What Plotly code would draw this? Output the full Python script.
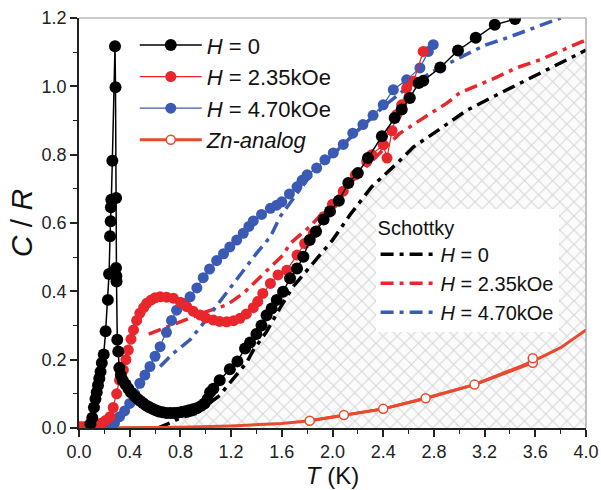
import plotly.graph_objects as go

# ---------------- data ----------------
# H = 0 (black, measured)
T_h0 = [0.09, 0.105, 0.118, 0.13, 0.14, 0.15, 0.16, 0.17, 0.18, 0.195, 0.21, 0.228, 0.237, 0.245, 0.25,
        0.252, 0.255, 0.263, 0.284, 0.288, 0.293, 0.292, 0.295, 0.296, 0.302, 0.31, 0.318, 0.33, 0.345,
        0.368, 0.39, 0.41, 0.44, 0.46, 0.48, 0.505, 0.53, 0.555, 0.58, 0.605, 0.63, 0.66, 0.69, 0.72, 0.75,
        0.78, 0.81, 0.84, 0.87, 0.9, 0.93, 0.96, 0.99, 1.015, 1.034, 1.06, 1.11, 1.19, 1.25, 1.31, 1.35,
        1.40, 1.44, 1.48, 1.52, 1.56, 1.61, 1.665, 1.72, 1.77, 1.82, 1.87, 1.93, 1.98, 2.05, 2.125, 2.20,
        2.28, 2.39, 2.49, 2.546, 2.61, 2.68, 2.716, 2.85, 2.99, 3.13, 3.28, 3.44]
C_h0 = [0.012, 0.03, 0.06, 0.085, 0.105, 0.125, 0.145, 0.165, 0.19, 0.215, 0.283, 0.375, 0.451, 0.561, 0.605,
        0.646, 0.668, 0.782, 1.117, 0.997, 0.673, 0.468, 0.445, 0.429, 0.258, 0.224, 0.176, 0.155, 0.14,
        0.127, 0.115, 0.104, 0.093, 0.086, 0.08, 0.073, 0.066, 0.061, 0.056, 0.052, 0.048, 0.046, 0.044, 0.044, 0.044,
        0.045, 0.047, 0.049, 0.052, 0.055, 0.058, 0.064, 0.072, 0.085, 0.105, 0.115, 0.14, 0.172, 0.195, 0.233, 0.25,
        0.275, 0.30, 0.33, 0.35, 0.375, 0.399, 0.438, 0.467, 0.501, 0.55, 0.575, 0.61, 0.634, 0.665, 0.717, 0.746,
        0.79, 0.854, 0.907, 0.932, 0.966, 1.01, 1.016, 1.055, 1.105, 1.142, 1.18, 1.197]

# H = 2.35 kOe (red, measured)
T_h235 = [0.01, 0.03, 0.05, 0.075, 0.1, 0.12, 0.14, 0.16, 0.18, 0.21, 0.245, 0.27, 0.297, 0.32, 0.35, 0.37,
          0.389, 0.41, 0.43, 0.455, 0.48, 0.51, 0.534, 0.57, 0.6, 0.64, 0.69, 0.744, 0.8, 0.85, 0.9, 0.955,
          1.0, 1.06, 1.11, 1.165, 1.22, 1.27, 1.32, 1.375, 1.41, 1.45, 1.51, 1.57, 1.64, 1.72, 1.78, 1.85,
          1.93, 2.0, 2.085, 2.18, 2.27, 2.31, 2.40, 2.43, 2.47, 2.506, 2.546, 2.585, 2.64, 2.716]
C_h235 = [0.004, 0.004, 0.004, 0.005, 0.006, 0.007, 0.009, 0.012, 0.015, 0.022, 0.033, 0.06, 0.10, 0.14, 0.17, 0.20,
          0.228, 0.26, 0.287, 0.315, 0.336, 0.352, 0.365, 0.375, 0.381, 0.384, 0.383, 0.38, 0.368, 0.355, 0.342, 0.331,
          0.322, 0.316, 0.312, 0.311, 0.314, 0.321, 0.334, 0.352, 0.37, 0.394, 0.423, 0.448, 0.462, 0.506, 0.54, 0.57,
          0.618, 0.655, 0.693, 0.741, 0.78, 0.80, 0.829, 0.79, 0.87, 0.917, 0.946, 0.995, 1.015, 1.102]

# H = 4.70 kOe (blue, measured)
T_h470 = [0.245, 0.28, 0.32, 0.36, 0.40, 0.44, 0.48, 0.52, 0.56, 0.6, 0.64, 0.69, 0.73, 0.77, 0.82, 0.876,
          0.93, 0.98, 1.03, 1.086, 1.14, 1.19, 1.244, 1.296, 1.34, 1.375, 1.44, 1.51, 1.56, 1.60, 1.66, 1.72,
          1.76, 1.80, 1.875, 1.94, 2.006, 2.085, 2.16, 2.24, 2.32, 2.40, 2.48, 2.585, 2.69, 2.756, 2.795]
C_h470 = [0.004, 0.015, 0.033, 0.05, 0.072, 0.10, 0.131, 0.155, 0.18, 0.21, 0.238, 0.28, 0.315, 0.345, 0.365, 0.384,
          0.41, 0.44, 0.465, 0.49, 0.51, 0.53, 0.55, 0.57, 0.59, 0.606, 0.625, 0.643, 0.652, 0.662, 0.685, 0.706,
          0.725, 0.741, 0.761, 0.785, 0.805, 0.83, 0.863, 0.888, 0.915, 0.946, 0.99, 1.019, 1.054, 1.102, 1.122]

# Zn-analog (open circles) and its line
T_zn = [1.82, 2.09, 2.40, 2.735, 3.12, 3.58, 3.58]
C_zn = [0.021, 0.038, 0.056, 0.087, 0.127, 0.191, 0.204]
T_zn_line = [0.0, 0.4, 0.8, 1.2, 1.6, 1.82, 2.09, 2.40, 2.735, 3.12, 3.58, 3.8, 4.0]
C_zn_line = [0.0, 0.0, 0.002, 0.006, 0.013, 0.021, 0.038, 0.056, 0.087, 0.127, 0.195, 0.235, 0.287]

# Schottky curves
T_s0 = [0.62, 0.72, 0.8, 0.93, 1.0, 1.11, 1.165, 1.244, 1.32, 1.375, 1.48, 1.6, 1.69, 1.757, 1.9, 2.0,
        2.14, 2.31, 2.51, 2.64, 2.8, 3.06, 3.27, 3.48, 3.74, 4.0]
C_s0 = [0.0, 0.015, 0.03, 0.043, 0.065, 0.095, 0.121, 0.155, 0.19, 0.228, 0.282, 0.36, 0.414, 0.443, 0.505, 0.55,
        0.625, 0.706, 0.775, 0.823, 0.863, 0.93, 0.97, 1.009, 1.057, 1.106]
T_s235 = [0.55, 0.6, 0.77, 0.9, 1.0, 1.165, 1.296, 1.48, 1.61, 1.665, 1.82, 2.0, 2.2, 2.36, 2.53, 2.77,
          2.9, 3.0, 3.28, 3.45, 3.64, 3.82, 4.0]
C_s235 = [0.275, 0.282, 0.306, 0.325, 0.34, 0.36, 0.394, 0.46, 0.506, 0.54, 0.589, 0.66, 0.74, 0.80, 0.862, 0.92,
          0.95, 0.98, 1.024, 1.054, 1.078, 1.107, 1.136]
T_s470 = [0.64, 0.665, 0.744, 0.876, 0.98, 1.14, 1.296, 1.40, 1.51, 1.586, 1.72, 1.80, 2.0, 2.2, 2.4, 2.6,
          2.8, 3.0, 3.2, 3.37, 3.55, 3.69, 3.8]
C_s470 = [0.18, 0.189, 0.219, 0.258, 0.306, 0.384, 0.462, 0.511, 0.56, 0.618, 0.687, 0.726, 0.80, 0.87, 0.94, 1.0,
          1.045, 1.083, 1.12, 1.141, 1.165, 1.185, 1.2]

x_ticks = [0.0, 0.4, 0.8, 1.2, 1.6, 2.0, 2.4, 2.8, 3.2, 3.6, 4.0]
y_ticks = [0.0, 0.2, 0.4, 0.6, 0.8, 1.0, 1.2]

# ---------------- styling ----------------
FONT = "Liberation Sans, Arial, sans-serif"
BLACK = "#000000"
RED = "#e8262b"
BLUE = "#3a5ab4"
ZNRED = "#e84a2e"
DASHDOT = "13px,6px,4px,6px"

fig = go.Figure()

# hatched region under the H = 0 Schottky curve
fig.add_trace(go.Scatter(
    x=T_s0, y=C_s0, mode="lines", fill="tozeroy",
    line=dict(width=0, color="rgba(0,0,0,0)"),
    fillcolor="rgba(0,0,0,0)",
    fillpattern=dict(shape="x", fgcolor="#b0b0b0", bgcolor="#fbfbfb", size=10, solidity=0.2),
    showlegend=False, hoverinfo="skip"))

# Schottky curves (second legend)
fig.add_trace(go.Scatter(x=T_s0, y=C_s0, mode="lines", name="<i>H</i> = 0",
                         line=dict(color=BLACK, width=3.5, dash=DASHDOT), legend="legend2", legendrank=1))
fig.add_trace(go.Scatter(x=T_s235, y=C_s235, mode="lines", name="<i>H</i> = 2.35kOe",
                         line=dict(color=RED, width=3.5, dash=DASHDOT), legend="legend2", legendrank=2))
fig.add_trace(go.Scatter(x=T_s470, y=C_s470, mode="lines", name="<i>H</i> = 4.70kOe",
                         line=dict(color=BLUE, width=3.5, dash=DASHDOT), legend="legend2", legendrank=3))

# Zn-analog
fig.add_trace(go.Scatter(x=T_zn_line, y=C_zn_line, mode="lines", line=dict(color=ZNRED, width=3),
                         showlegend=False, hoverinfo="skip"))
fig.add_trace(go.Scatter(x=T_zn, y=C_zn, mode="lines+markers", name="<i>Zn-analog</i>",
                         line=dict(color=ZNRED, width=3),
                         marker=dict(symbol="circle", size=9, color="white", line=dict(width=1.5, color=ZNRED)),
                         legendrank=4))

# measured data
fig.add_trace(go.Scatter(x=T_h470, y=C_h470, mode="lines+markers", name="<i>H</i> = 4.70kOe",
                         line=dict(color=BLUE, width=1.2),
                         marker=dict(size=11, color=BLUE), legendrank=3))
fig.add_trace(go.Scatter(x=T_h235, y=C_h235, mode="lines+markers", name="<i>H</i> = 2.35kOe",
                         line=dict(color=RED, width=1.2),
                         marker=dict(size=11, color=RED), legendrank=2))
fig.add_trace(go.Scatter(x=T_h0, y=C_h0, mode="lines+markers", name="<i>H</i> = 0",
                         line=dict(color=BLACK, width=1.5),
                         marker=dict(size=12, color=BLACK), legendrank=1))

axis_common = dict(
    showgrid=False, zeroline=False, showline=True, linecolor="#222", linewidth=1.5,
    ticks="outside", ticklen=7, tickwidth=1.5, tickcolor="#222",
    tickfont=dict(family=FONT, size=18, color="#222"),
    minor=dict(ticks="outside", ticklen=4, tickwidth=1.2, tickcolor="#222"),
    automargin=False,
)

fig.update_layout(
    width=601, height=490,
    margin=dict(l=79, r=15, t=18, b=62),
    paper_bgcolor="white", plot_bgcolor="white",
    font=dict(family=FONT, color="#111"),
    xaxis=dict(range=[0, 4.0], tickvals=x_ticks, ticktext=[f"{v:.1f}" for v in x_ticks],
               title=dict(text="<i>T</i> (K)", font=dict(family=FONT, size=24), standoff=4),
               **axis_common),
    yaxis=dict(range=[0, 1.2], tickvals=y_ticks, ticktext=[f"{v:.1f}" for v in y_ticks],
               title=dict(text="<i>C</i> / <i>R</i>", font=dict(family=FONT, size=30), standoff=0),
               **axis_common),
    legend=dict(x=0.11, y=0.985, xanchor="left", yanchor="top", bgcolor="rgba(0,0,0,0)",
                font=dict(family=FONT, size=22, color="#111"), traceorder="normal",
                itemwidth=62),
    legend2=dict(x=0.585, y=0.535, xanchor="left", yanchor="top", bgcolor="white",
                 font=dict(family=FONT, size=20, color="#111"), traceorder="normal",
                 itemwidth=55,
                 title=dict(text="Schottky", font=dict(family=FONT, size=20, color="#111"))),
    shapes=[dict(type="line", xref="paper", yref="paper", x0=0, x1=1, y0=1, y1=1,
                 line=dict(color="#9a9a9a", width=1.2)),
            dict(type="line", xref="paper", yref="paper", x0=1, x1=1, y0=0, y1=1,
                 line=dict(color="#9a9a9a", width=1.2))],
)
fig.update_xaxes(minor=dict(tickvals=[0.2, 0.6, 1.0, 1.4, 1.8, 2.2, 2.6, 3.0, 3.4, 3.8]))
fig.update_yaxes(minor=dict(tickvals=[0.1, 0.3, 0.5, 0.7, 0.9, 1.1]))

fig.write_html("out.html")
